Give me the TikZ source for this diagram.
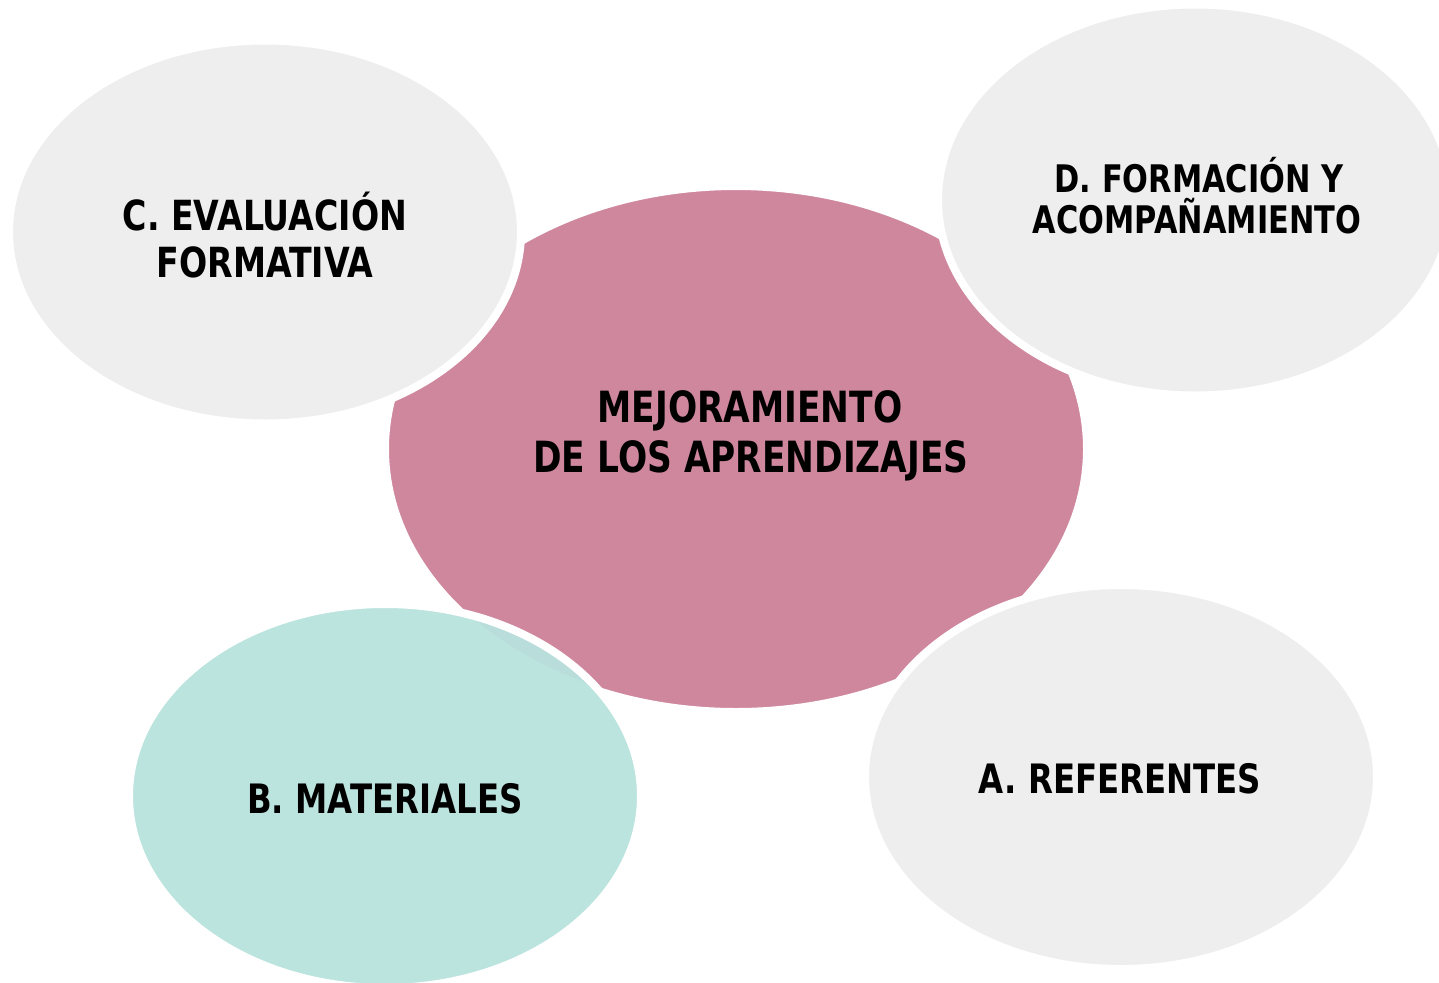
\documentclass[tikz,border=0pt]{standalone}
\usepackage{fontspec}
\newfontfamily\lab{DejaVu Sans}[FakeStretch=0.8]
\usetikzlibrary{shapes.geometric}
\definecolor{pinkc}{HTML}{CF879E}
\definecolor{grayc}{HTML}{EEEEEE}
\definecolor{tealc}{HTML}{B8E3DE}
\begin{document}
\begin{tikzpicture}[x=1pt,y=-1pt,
  blob/.style={ellipse, draw=white, line width=8pt, inner sep=0pt, outer sep=0pt},
  lbl/.style={anchor=base, inner sep=0pt, text=black, font=\lab\bfseries\fontsize{#1}{#1}\selectfont},
  lbl/.default=40]
\useasboundingbox (0,0) rectangle (1439,982);
\clip (0,0) rectangle (1439,982);
\fill[white] (0,0) rectangle (1439,982);
% central ellipse
\node[blob, fill=pinkc, minimum width=702pt, minimum height=526pt] (mid) at (736,449) {};
% satellites
\node[blob, fill=grayc, minimum width=512pt, minimum height=383pt] (C) at (265,232) {};
\node[blob, fill=grayc, minimum width=514pt, minimum height=391pt] (D) at (1195,200) {};
\node[blob, fill=grayc, minimum width=512pt, minimum height=384pt] (A) at (1121,777) {};
\node[blob, draw=none, fill=tealc, fill opacity=0.94, minimum width=512pt, minimum height=384pt] (B) at (385,796) {};
\node[blob, fill=none, minimum width=512pt, minimum height=384pt] (Bb) at (385,796) {};
% labels
\node[lbl=43] (m1) at (750,422) {MEJORAMIENTO};
\node[lbl=43] (m2) at (751,472) {DE LOS APRENDIZAJES};
\node[lbl=41.5] (c1) at (265,230) {C. EVALUACIÓN};
\node[lbl=41.5] (c2) at (265,277) {FORMATIVA};
\node[lbl=38] (d1) at (1199,192) {D. FORMACIÓN Y};
\node[lbl=38] (d2) at (1197,233) {ACOMPAÑAMIENTO};
\node[lbl=40.5] (b1) at (385,813) {B. MATERIALES};
\node[lbl=40.5] (a1) at (1120,793) {A. REFERENTES};
\end{tikzpicture}
\end{document}
